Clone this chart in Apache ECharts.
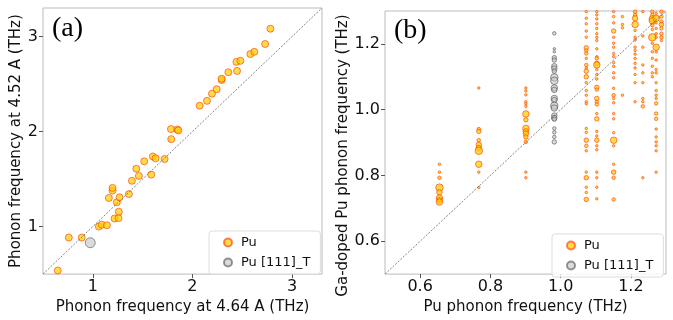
<!DOCTYPE html>
<html>
<head>
<meta charset="utf-8">
<script src="https://cdn.jsdelivr.net/npm/echarts@6/dist/echarts.min.js"></script>
<style>
  html, body { margin: 0; padding: 0; background: #fff; }
  #chart { width: 673px; height: 320px; }
</style>
</head>
<body>
<div id="chart"></div>
<script>
// panel (a): [freq at 4.64 A, freq at 4.52 A]
var puA = [
  [0.648, 0.538], [0.759, 0.884], [0.889, 0.884], [1.060, 1.000], [1.090, 1.020],
  [1.141, 1.014], [1.218, 1.085], [1.258, 1.089], [1.261, 1.157], [1.161, 1.301],
  [1.198, 1.379], [1.198, 1.407], [1.241, 1.256], [1.268, 1.308], [1.362, 1.342],
  [1.392, 1.482], [1.462, 1.533], [1.436, 1.609], [1.516, 1.687], [1.586, 1.547],
  [1.603, 1.738], [1.630, 1.718], [1.720, 1.711], [1.784, 2.026], [1.787, 1.920],
  [1.848, 2.022], [1.858, 2.012], [2.072, 2.272], [2.146, 2.323], [2.196, 2.398],
  [2.243, 2.446], [2.293, 2.542], [2.293, 2.556], [2.360, 2.624], [2.447, 2.638],
  [2.441, 2.733], [2.481, 2.744], [2.581, 2.815], [2.621, 2.839], [2.729, 2.921],
  [2.782, 3.082]
];
var pu111A = [[0.974, 0.830]];

// panel (b): [Pu freq, Ga-doped freq, weight]
var puB = [
  [0.655, 0.834, 1], [0.655, 0.810, 1], [0.655, 0.793, 2], [0.655, 0.763, 6], [0.655, 0.749, 4],
  [0.655, 0.731, 5], [0.655, 0.725, 4], [0.655, 0.719, 5],
  [0.767, 1.066, 1], [0.767, 0.941, 2], [0.767, 0.934, 3], [0.767, 0.907, 2], [0.767, 0.893, 4],
  [0.767, 0.883, 4], [0.767, 0.875, 6], [0.767, 0.834, 5], [0.767, 0.810, 1], [0.767, 0.763, 1],
  [0.901, 1.066, 1], [0.901, 1.057, 1], [0.901, 1.045, 1], [0.901, 1.024, 1], [0.901, 1.018, 1],
  [0.901, 1.010, 1], [0.901, 0.987, 5], [0.901, 0.969, 3], [0.901, 0.943, 5], [0.901, 0.934, 4],
  [0.901, 0.927, 4], [0.901, 0.917, 3], [0.901, 0.902, 2], [0.901, 0.810, 1], [0.901, 0.793, 1],
  [1.073, 1.298, 1], [1.073, 1.278, 1], [1.073, 1.261, 1], [1.073, 1.239, 1], [1.073, 1.220, 1],
  [1.073, 1.188, 3], [1.073, 1.180, 2], [1.073, 1.171, 2], [1.073, 1.156, 1], [1.073, 1.136, 2],
  [1.073, 1.127, 1], [1.073, 1.117, 3], [1.073, 1.100, 3], [1.073, 1.082, 1], [1.073, 1.058, 1],
  [1.073, 1.044, 1], [1.073, 1.024, 1], [1.073, 1.018, 1], [1.073, 0.943, 1], [1.073, 0.931, 1],
  [1.073, 0.907, 3], [1.073, 0.890, 2], [1.073, 0.875, 1], [1.073, 0.810, 1], [1.073, 0.793, 3],
  [1.073, 0.764, 1], [1.073, 0.748, 1], [1.073, 0.727, 3],
  [1.103, 1.298, 1], [1.103, 1.288, 1], [1.103, 1.276, 1], [1.103, 1.261, 1], [1.103, 1.247, 1],
  [1.103, 1.231, 1], [1.103, 1.220, 1], [1.103, 1.210, 1], [1.103, 1.185, 1], [1.103, 1.161, 1],
  [1.103, 1.156, 2], [1.103, 1.141, 3], [1.103, 1.136, 5], [1.103, 1.122, 1], [1.103, 1.107, 1],
  [1.103, 1.093, 1], [1.103, 1.068, 3], [1.103, 1.061, 2], [1.103, 1.034, 3], [1.103, 1.024, 2],
  [1.103, 1.016, 2], [1.103, 0.988, 1], [1.103, 0.972, 3], [1.103, 0.934, 1], [1.103, 0.920, 1],
  [1.103, 0.907, 3], [1.103, 0.890, 1], [1.103, 0.878, 1], [1.103, 0.810, 1], [1.103, 0.793, 1],
  [1.103, 0.764, 1], [1.103, 0.729, 1],
  [1.151, 1.298, 1], [1.151, 1.283, 1], [1.151, 1.264, 1], [1.151, 1.239, 3], [1.151, 1.220, 1],
  [1.151, 1.202, 1], [1.151, 1.190, 1], [1.151, 1.171, 1], [1.151, 1.161, 1], [1.151, 1.143, 1],
  [1.151, 1.132, 1], [1.151, 1.112, 1], [1.151, 1.097, 1], [1.151, 1.065, 1], [1.151, 1.044, 2],
  [1.151, 1.034, 1], [1.151, 1.021, 1], [1.151, 0.988, 1], [1.151, 0.972, 1], [1.151, 0.930, 1],
  [1.151, 0.907, 5], [1.151, 0.890, 1], [1.151, 0.834, 1], [1.151, 0.810, 3], [1.151, 0.793, 2],
  [1.151, 0.727, 2],
  [1.176, 1.283, 1], [1.176, 1.259, 1], [1.176, 1.249, 1], [1.176, 1.044, 1],
  [1.212, 1.298, 2], [1.212, 1.288, 2], [1.212, 1.278, 4], [1.212, 1.259, 5], [1.212, 1.241, 1],
  [1.212, 1.220, 1], [1.212, 1.212, 1], [1.212, 1.190, 1], [1.212, 1.180, 1], [1.212, 1.169, 1],
  [1.212, 1.156, 1], [1.212, 1.141, 1], [1.212, 1.127, 1], [1.212, 1.107, 1], [1.212, 1.082, 1],
  [1.212, 1.024, 1],
  [1.234, 1.298, 1], [1.234, 1.224, 1], [1.234, 1.190, 1], [1.234, 1.136, 1], [1.234, 1.112, 1],
  [1.234, 1.082, 1], [1.234, 1.034, 1], [1.234, 1.024, 1], [1.234, 1.010, 2], [1.234, 0.793, 1],
  [1.261, 1.298, 2], [1.261, 1.288, 2], [1.261, 1.276, 5], [1.261, 1.270, 5], [1.261, 1.257, 2],
  [1.261, 1.244, 1], [1.261, 1.220, 6], [1.261, 1.202, 1], [1.261, 1.176, 1], [1.261, 1.156, 1],
  [1.261, 1.132, 1], [1.261, 1.112, 1], [1.261, 1.100, 1],
  [1.272, 1.293, 1], [1.272, 1.278, 5], [1.272, 1.264, 1], [1.272, 1.247, 1], [1.272, 1.231, 1],
  [1.272, 1.220, 1], [1.272, 1.190, 5], [1.272, 1.176, 1], [1.272, 1.151, 1], [1.272, 1.122, 1],
  [1.272, 1.112, 1], [1.272, 1.082, 1], [1.272, 1.058, 1], [1.272, 1.044, 1], [1.272, 1.034, 1],
  [1.272, 1.019, 2], [1.272, 0.988, 2], [1.272, 0.972, 2], [1.272, 0.941, 1], [1.272, 0.917, 1],
  [1.272, 0.902, 1], [1.272, 0.890, 1], [1.272, 0.875, 1], [1.272, 0.810, 1],
  [1.287, 1.298, 2], [1.287, 1.283, 2], [1.287, 1.268, 2], [1.287, 1.259, 3], [1.287, 1.247, 2],
  [1.287, 1.231, 2], [1.287, 1.220, 2], [1.287, 1.210, 1]
];
var pu111B = [
  [0.982, 1.232, 2], [0.982, 1.185, 1], [0.982, 1.176, 1], [0.982, 1.158, 3], [0.982, 1.151, 3],
  [0.982, 1.132, 4], [0.982, 1.125, 4], [0.982, 1.117, 3], [0.982, 1.098, 6], [0.982, 1.088, 6],
  [0.982, 1.066, 5], [0.982, 1.060, 4], [0.982, 1.034, 5], [0.982, 1.029, 4], [0.982, 1.012, 6],
  [0.982, 1.005, 5], [0.982, 0.982, 4], [0.982, 0.975, 4], [0.982, 0.971, 3], [0.982, 0.943, 2],
  [0.982, 0.931, 2], [0.982, 0.917, 2], [0.982, 0.902, 3]
];

var rangeA = [0.5, 3.3];
var rangeB = [0.5, 1.3];
var ticksA = [1, 2, 3];
var ticksB = [0.6, 0.8, 1.0, 1.2];

var font = "DejaVu Sans";
var puStyle = { color: "rgba(255,205,0,0.9)", borderColor: "rgba(255,50,0,0.75)", borderWidth: 1 };
var grayStyle = { color: "rgba(195,195,195,0.75)", borderColor: "rgba(70,70,70,0.7)", borderWidth: 1 };

function axis(idx, range, ticks, name, gap, digits, namePad) {
  return {
    type: "value",
    gridIndex: idx,
    min: range[0],
    max: range[1],
    name: name,
    nameLocation: "middle",
    nameGap: gap,
    nameTextStyle: { fontFamily: font, fontSize: 15, color: "#111", padding: namePad || 0 },
    axisLine: { show: false },
    axisTick: { show: true, length: 4, customValues: ticks, lineStyle: { color: "#555" } },
    axisLabel: {
      customValues: ticks,
      fontFamily: font,
      fontSize: 16,
      color: "#111",
      margin: 5,
      formatter: function (v) { return v.toFixed(digits); }
    },
    splitLine: { show: false }
  };
}

function diag(idx, range) {
  return {
    type: "line",
    xAxisIndex: idx,
    yAxisIndex: idx,
    data: [[range[0], range[0]], [range[1], range[1]]],
    showSymbol: false,
    silent: true,
    z: 3,
    lineStyle: { color: "#666", width: 0.8, type: [2, 1.5] }
  };
}

function legend(left, top) {
  return {
    orient: "vertical",
    left: left,
    top: top,
    data: ["Pu", "Pu [111]_T"],
    icon: "circle",
    itemWidth: 8,
    itemHeight: 8,
    itemGap: 5,
    padding: [4, 10, 4, 14],
    borderColor: "#ddd",
    borderWidth: 1,
    borderRadius: 3,
    backgroundColor: "rgba(255,255,255,0.8)",
    textStyle: { fontFamily: font, fontSize: 13, color: "#111", padding: [0, 0, 0, 4], lineHeight: 15 }
  };
}

var chart = echarts.init(document.getElementById("chart"), null, { renderer: "canvas" });

var option = {
  animation: false,
  grid: [
    { left: 43, top: 8, width: 279, height: 273, show: true, borderColor: "#bbb", borderWidth: 1 },
    { left: 385, top: 11, width: 281, height: 272, show: true, borderColor: "#bbb", borderWidth: 1 }
  ],
  xAxis: [
    axis(0, rangeA, ticksA, "Phonon frequency at 4.64 A (THz)", 19, 0),
    axis(1, rangeB, ticksB, "Pu phonon frequency (THz)", 18, 1)
  ],
  yAxis: [
    axis(0, rangeA, ticksA, "Phonon frequency at 4.52 A (THz)", 16, 0),
    axis(1, rangeB, ticksB, "Ga-doped Pu phonon frequency (THz)", 32, 1, [0, 26, 0, 0])
  ],
  legend: [legend(209, 231), legend(552, 234)],
  graphic: [
    { type: "text", left: 52, top: 15, style: { text: "(a)", fontFamily: "Liberation Serif", fontSize: 28, fill: "#000" } },
    { type: "text", left: 394, top: 17, style: { text: "(b)", fontFamily: "Liberation Serif", fontSize: 28, fill: "#000" } }
  ],
  series: [
    {
      name: "Pu", type: "scatter", xAxisIndex: 0, yAxisIndex: 0,
      data: puA, symbolSize: 7, itemStyle: puStyle
    },
    {
      name: "Pu [111]_T", type: "scatter", xAxisIndex: 0, yAxisIndex: 0,
      data: pu111A, symbolSize: 10, itemStyle: grayStyle
    },
    diag(0, rangeA),
    {
      name: "Pu", type: "scatter", xAxisIndex: 1, yAxisIndex: 1,
      data: puB, symbolSize: function (d) { return 1.5 + d[2]; }, itemStyle: puStyle
    },
    {
      name: "Pu [111]_T", type: "scatter", xAxisIndex: 1, yAxisIndex: 1,
      data: pu111B, symbolSize: function (d) { return 1.5 + d[2]; }, itemStyle: grayStyle
    },
    diag(1, rangeB)
  ]
};

chart.setOption(option);
window.addEventListener("resize", chart.resize);
</script>
</body>
</html>
